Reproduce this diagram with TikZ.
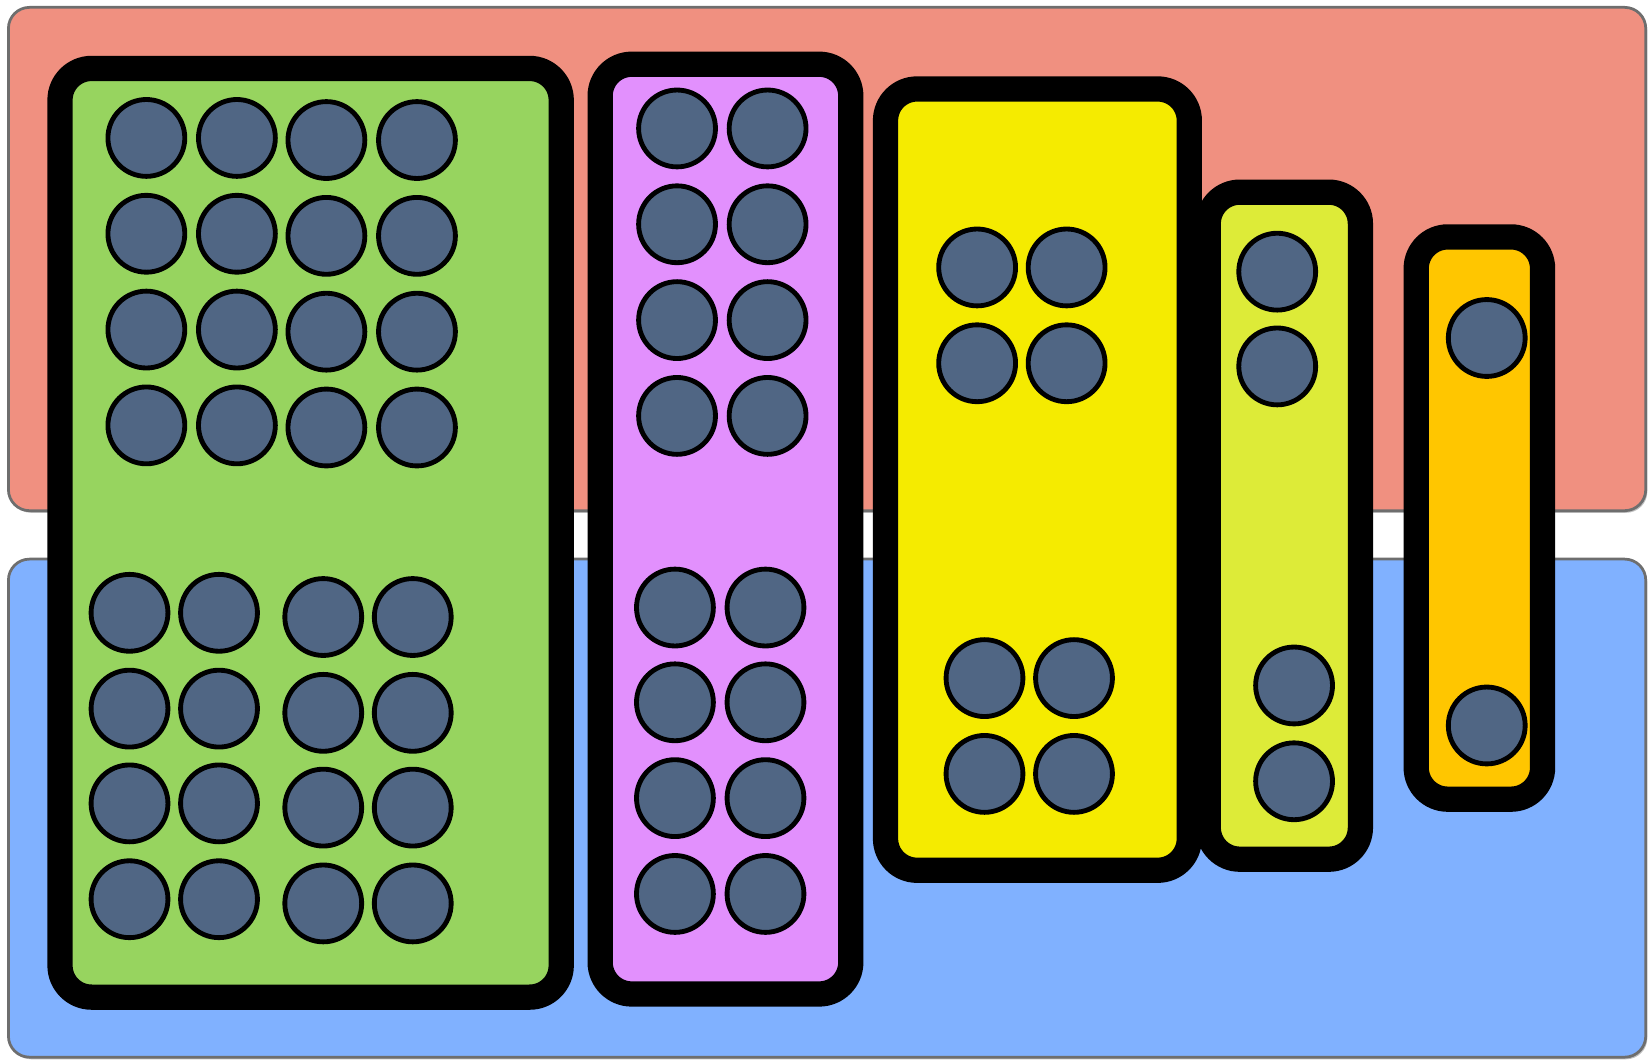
\documentclass[tikz,border=0pt]{standalone}
\definecolor{zonered}{RGB}{240,144,128}
\definecolor{zoneblue}{RGB}{128,177,255}
\definecolor{zoneedge}{RGB}{110,110,110}
\definecolor{traygreen}{RGB}{151,212,95}
\definecolor{traypurple}{RGB}{226,144,253}
\definecolor{trayyellow}{RGB}{245,235,0}
\definecolor{traylime}{RGB}{221,235,56}
\definecolor{trayorange}{RGB}{255,198,0}
\definecolor{ballc}{RGB}{80,102,132}
\begin{document}
\begin{tikzpicture}[x=0.5pt,y=-0.5pt,
  zone/.style={draw=zoneedge, line width=1.3pt, rounded corners=10pt, inner sep=0pt, outer sep=0pt, minimum width=777.5pt},
  zoneshadow/.style={fill=black!25, rounded corners=10pt, inner sep=0pt, outer sep=0pt, minimum width=777.5pt},
  tray/.style={draw=black, line width=12pt, rounded corners=15pt, inner sep=0pt, outer sep=0pt},
  ball/.style={circle, draw=black, line width=2.3pt, fill=ballc, minimum size=36.5pt, inner sep=0pt, outer sep=0pt}]
\useasboundingbox (0,0) rectangle (1568,1006);
% background zones
\node[zoneshadow, minimum height=239pt] (topshadow) at (787,248) {};
\node[zone, fill=zonered, minimum height=239pt] (top) at (785.5,246) {};
\node[zoneshadow, minimum height=236.5pt] (bottomshadow) at (787,769.5) {};
\node[zone, fill=zoneblue, minimum height=236.5pt] (bottom) at (785.5,767.5) {};
% trays
\node[tray, fill=traygreen, minimum width=238pt, minimum height=441pt] (green) at (295,506) {};
\node[tray, fill=traypurple, minimum width=119pt, minimum height=441.5pt] (purple) at (689,502.5) {};
\node[tray, fill=trayyellow, minimum width=144.25pt, minimum height=371pt] (yellow) at (985.25,455.5) {};
\node[tray, fill=traylime, minimum width=72.25pt, minimum height=316.75pt] (lime) at (1219.75,499.25) {};
\node[tray, fill=trayorange, minimum width=60pt, minimum height=267pt] (orange) at (1405,492) {};
% green tray balls
\foreach \i/\x/\d in {1/139/0,2/225/0,3/310/2,4/396/2}
  \foreach \j/\y in {1/131,2/222,3/313,4/404}
    \node[ball] (gt\i\j) at (\x,\y+\d) {};
\foreach \i/\x/\d in {1/123/0,2/208/0,3/307/4,4/392/4}
  \foreach \j/\y in {1/582,2/673,3/763,4/854}
    \node[ball] (gb\i\j) at (\x,\y+\d) {};
% purple tray balls
\foreach \i/\x in {1/643,2/729}
  \foreach \j/\y in {1/122,2/213,3/304,4/395}
    \node[ball] (pt\i\j) at (\x,\y) {};
\foreach \i/\x in {1/641,2/727}
  \foreach \j/\y in {1/577,2/667,3/758,4/849}
    \node[ball] (pb\i\j) at (\x,\y) {};
% yellow tray balls
\foreach \i/\x in {1/928,2/1013}
  \foreach \j/\y in {1/254,2/345}
    \node[ball] (yt\i\j) at (\x,\y) {};
\foreach \i/\x in {1/935,2/1020}
  \foreach \j/\y in {1/644,2/735}
    \node[ball] (yb\i\j) at (\x,\y) {};
% lime tray balls
\node[ball] (lt1) at (1213,258) {};
\node[ball] (lt2) at (1213,348) {};
\node[ball] (lb1) at (1229,651) {};
\node[ball] (lb2) at (1229,742) {};
% orange tray balls
\node[ball] (ot1) at (1412,321) {};
\node[ball] (ob1) at (1412,689) {};
\end{tikzpicture}
\end{document}
